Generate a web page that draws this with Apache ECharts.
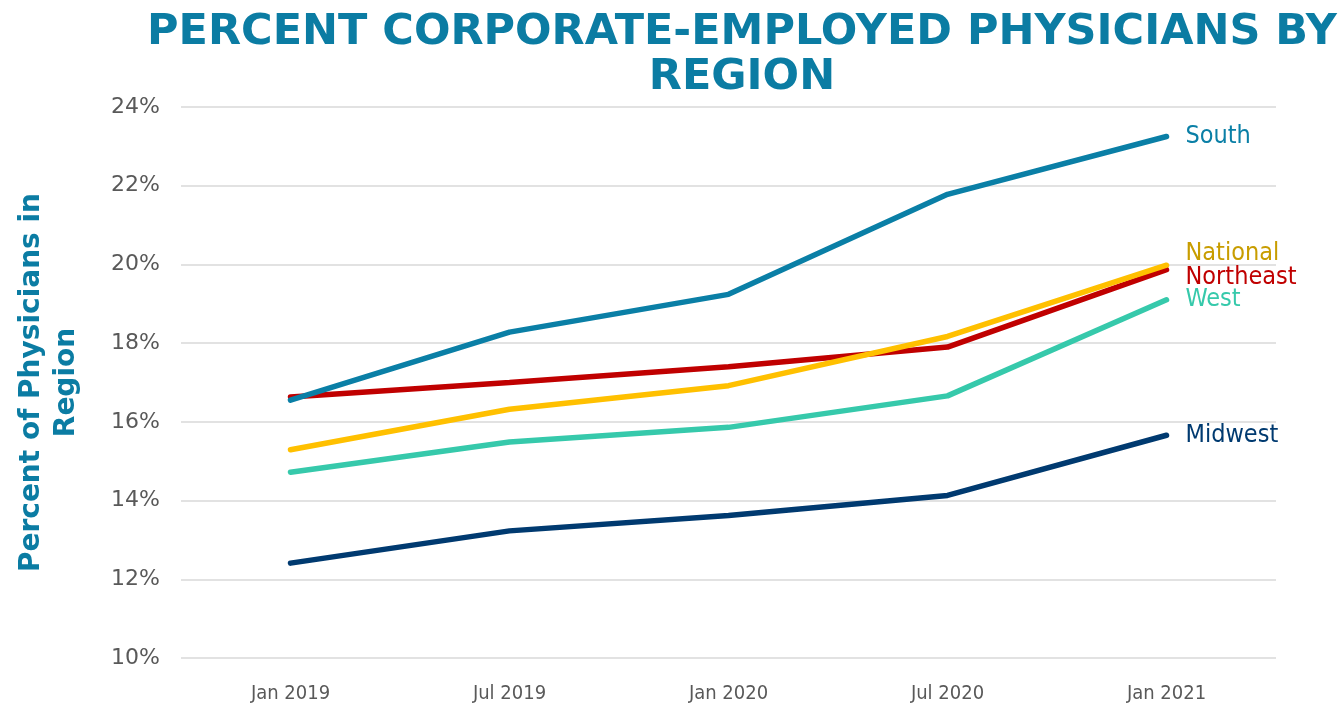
<!DOCTYPE html>
<html>
<head>
<meta charset="utf-8">
<script src="https://cdn.jsdelivr.net/npm/echarts@6/dist/echarts.min.js"></script>
<style>
  html, body { margin: 0; padding: 0; background: #fff; }
  #main { width: 1341px; height: 706px; }
</style>
</head>
<body>
<div id="main"></div>
<script>
const categories = ['Jan 2019', 'Jul 2019', 'Jan 2020', 'Jul 2020', 'Jan 2021'];
const south = [16.55, 18.28, 19.24, 21.78, 23.25];
const northeast = [16.63, 17.0, 17.4, 17.9, 19.87];
const national = [15.29, 16.32, 16.92, 18.17, 19.98];
const west = [14.72, 15.49, 15.86, 16.66, 19.1];
const midwest = [12.41, 13.23, 13.62, 14.13, 15.66];

const chart = echarts.init(document.getElementById('main'));

function line(name, data, color, labelColor, offY) {
    return {
        name: name,
        type: 'line',
        data: data,
        symbol: 'none',
        lineStyle: { color: color, width: 5.5, cap: 'round' },
        itemStyle: { color: color },
        endLabel: {
            show: true,
            formatter: '{a}',
            color: labelColor,
            fontFamily: 'DejaVu Sans Condensed',
            fontSize: 25,
            distance: 19,
            offset: [0, offY]
        }
    };
}

chart.setOption({
    animation: false,
    title: {
        text: 'PERCENT CORPORATE-EMPLOYED PHYSICIANS BY\nREGION',
        left: 737,
        top: 5,
        textAlign: 'center',
        textStyle: {
            color: '#0b7ca3',
            fontFamily: 'DejaVu Sans',
            fontWeight: 'bold',
            fontSize: 43,
            lineHeight: 45
        }
    },
    grid: { left: 181, right: 65, top: 107, bottom: 48, outerBoundsMode: 'none', containLabel: false },
    xAxis: {
        type: 'category',
        data: categories,
        axisLine: { show: false },
        axisTick: { show: false },
        axisLabel: {
            color: '#595959',
            fontFamily: 'DejaVu Sans Condensed',
            fontSize: 20,
            margin: 26
        }
    },
    yAxis: {
        type: 'value',
        min: 10,
        max: 24,
        interval: 2,
        name: 'Percent of Physicians in\nRegion',
        nameLocation: 'middle',
        nameGap: 97,
        nameTextStyle: {
            color: '#0b7ca3',
            fontFamily: 'DejaVu Sans',
            fontWeight: 'bold',
            fontSize: 28,
            lineHeight: 35
        },
        axisLabel: {
            formatter: '{value}%',
            color: '#595959',
            fontFamily: 'DejaVu Sans',
            fontSize: 22,
            margin: 21
        },
        splitLine: { lineStyle: { color: '#e2e2e2', width: 2 } }
    },
    series: [
        line('Midwest', midwest, '#003a70', '#003a70', 0),
        line('West', west, '#36c9ab', '#36c9ab', 0),
        line('Northeast', northeast, '#c00000', '#c00000', 8),
        line('National', national, '#ffc000', '#c89d00', -12),
        line('South', south, '#0a7fa6', '#0a7fa6', 0)
    ]
});
</script>
</body>
</html>
